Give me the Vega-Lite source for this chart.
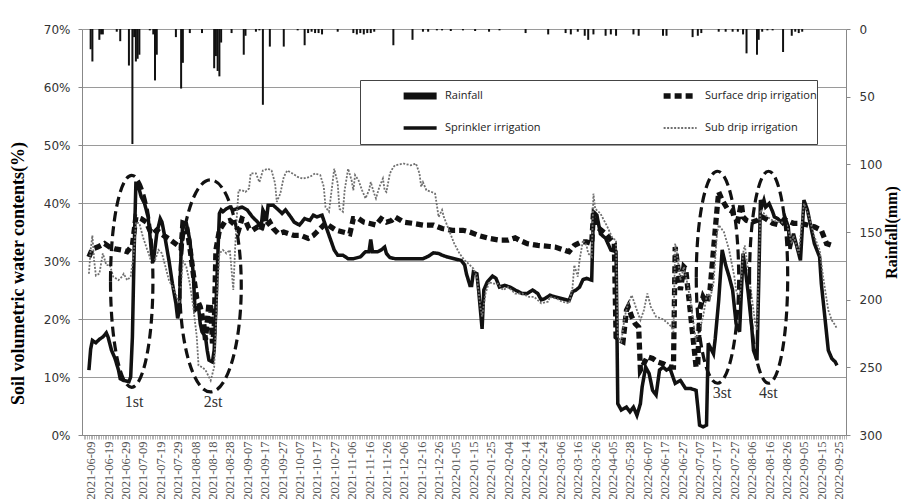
{
  "$schema": "https://vega.github.io/schema/vega-lite/v6.json",
  "autosize": {"type": "none"},
  "width": 764,
  "height": 406,
  "padding": {"left": 82, "top": 29, "right": 60, "bottom": 64},
  "background": "white",
  "config": {"view": {"stroke": null}},
  "datasets": {
    "rain": [
      {"i":1,"mm":15},{"i":2,"mm":24},{"i":6,"mm":8},{"i":7,"mm":4},{"i":8,"mm":4},{"i":16,"mm":2},{"i":18,"mm":9},{"i":23,"mm":27},{"i":25,"mm":85},{"i":26,"mm":6},{"i":27,"mm":24},{"i":28,"mm":22},{"i":29,"mm":19},{"i":35,"mm":1},{"i":37,"mm":4},{"i":38,"mm":38},{"i":39,"mm":19},{"i":50,"mm":6},{"i":53,"mm":44},{"i":54,"mm":25},{"i":58,"mm":3},{"i":65,"mm":3},{"i":72,"mm":29},{"i":73,"mm":20},{"i":74,"mm":31},{"i":75,"mm":35},{"i":76,"mm":10},{"i":82,"mm":3},{"i":89,"mm":19},{"i":90,"mm":5},{"i":96,"mm":2},{"i":98,"mm":1},{"i":100,"mm":56},{"i":104,"mm":13},{"i":112,"mm":13},{"i":120,"mm":1},{"i":124,"mm":12},{"i":126,"mm":3},{"i":128,"mm":2},{"i":130,"mm":3},{"i":132,"mm":3},{"i":134,"mm":4},{"i":143,"mm":2},{"i":152,"mm":3},{"i":154,"mm":4},{"i":156,"mm":3},{"i":158,"mm":4},{"i":160,"mm":3},{"i":162,"mm":3},{"i":164,"mm":2},{"i":175,"mm":12},{"i":186,"mm":8},{"i":192,"mm":2},{"i":195,"mm":2},{"i":200,"mm":1},{"i":203,"mm":1},{"i":208,"mm":1.5},{"i":215,"mm":1},{"i":222,"mm":1.5},{"i":230,"mm":2},{"i":236,"mm":1},{"i":251,"mm":3},{"i":264,"mm":4},{"i":274,"mm":3},{"i":277,"mm":4},{"i":281,"mm":2},{"i":285,"mm":5},{"i":287,"mm":8},{"i":290,"mm":4},{"i":297,"mm":5},{"i":300,"mm":4},{"i":303,"mm":5},{"i":313,"mm":4},{"i":316,"mm":5},{"i":330,"mm":5},{"i":332,"mm":5},{"i":347,"mm":6},{"i":350,"mm":5},{"i":352,"mm":3},{"i":362,"mm":2},{"i":366,"mm":2},{"i":370,"mm":2},{"i":373,"mm":2},{"i":376,"mm":4},{"i":378,"mm":18},{"i":384,"mm":19},{"i":385,"mm":8},{"i":387,"mm":2},{"i":390,"mm":1},{"i":393,"mm":1},{"i":399,"mm":17},{"i":404,"mm":5},{"i":406,"mm":2},{"i":408,"mm":3},{"i":410,"mm":2}
    ],
    "soil": [
      {"s":"Sprinkler irrigation","i":0,"v":11.2},{"s":"Sprinkler irrigation","i":1,"v":14.8},{"s":"Sprinkler irrigation","i":2,"v":16.3},{"s":"Sprinkler irrigation","i":4,"v":15.9},{"s":"Sprinkler irrigation","i":6,"v":16.5},{"s":"Sprinkler irrigation","i":8,"v":16.9},{"s":"Sprinkler irrigation","i":10,"v":17.6},{"s":"Sprinkler irrigation","i":11,"v":16.9},{"s":"Sprinkler irrigation","i":13,"v":14.6},{"s":"Sprinkler irrigation","i":15,"v":13.2},{"s":"Sprinkler irrigation","i":17,"v":11.2},{"s":"Sprinkler irrigation","i":18,"v":9.7},{"s":"Sprinkler irrigation","i":20,"v":9.4},{"s":"Sprinkler irrigation","i":23,"v":9.2},{"s":"Sprinkler irrigation","i":24,"v":10.0},{"s":"Sprinkler irrigation","i":25,"v":16.9},{"s":"Sprinkler irrigation","i":26,"v":31.9},{"s":"Sprinkler irrigation","i":27,"v":43.4},{"s":"Sprinkler irrigation","i":28,"v":43.4},{"s":"Sprinkler irrigation","i":30,"v":41.1},{"s":"Sprinkler irrigation","i":32,"v":39.9},{"s":"Sprinkler irrigation","i":34,"v":37.6},{"s":"Sprinkler irrigation","i":35,"v":34.7},{"s":"Sprinkler irrigation","i":36,"v":31.3},{"s":"Sprinkler irrigation","i":37,"v":29.8},{"s":"Sprinkler irrigation","i":39,"v":34.7},{"s":"Sprinkler irrigation","i":41,"v":37.3},{"s":"Sprinkler irrigation","i":42,"v":36.7},{"s":"Sprinkler irrigation","i":44,"v":33.6},{"s":"Sprinkler irrigation","i":46,"v":30.1},{"s":"Sprinkler irrigation","i":48,"v":26.1},{"s":"Sprinkler irrigation","i":50,"v":22.7},{"s":"Sprinkler irrigation","i":51,"v":20.1},{"s":"Sprinkler irrigation","i":52,"v":21.5},{"s":"Sprinkler irrigation","i":53,"v":31.9},{"s":"Sprinkler irrigation","i":54,"v":36.7},{"s":"Sprinkler irrigation","i":56,"v":36.5},{"s":"Sprinkler irrigation","i":58,"v":33.6},{"s":"Sprinkler irrigation","i":60,"v":27.8},{"s":"Sprinkler irrigation","i":61,"v":21.5},{"s":"Sprinkler irrigation","i":63,"v":22.1},{"s":"Sprinkler irrigation","i":64,"v":19.2},{"s":"Sprinkler irrigation","i":65,"v":17.8},{"s":"Sprinkler irrigation","i":67,"v":16.9},{"s":"Sprinkler irrigation","i":68,"v":14.6},{"s":"Sprinkler irrigation","i":69,"v":12.9},{"s":"Sprinkler irrigation","i":71,"v":12.6},{"s":"Sprinkler irrigation","i":72,"v":14.6},{"s":"Sprinkler irrigation","i":73,"v":22.1},{"s":"Sprinkler irrigation","i":75,"v":38.2},{"s":"Sprinkler irrigation","i":76,"v":38.8},{"s":"Sprinkler irrigation","i":77,"v":38.5},{"s":"Sprinkler irrigation","i":79,"v":39.0},{"s":"Sprinkler irrigation","i":81,"v":39.3},{"s":"Sprinkler irrigation","i":83,"v":38.8},{"s":"Sprinkler irrigation","i":85,"v":39.0},{"s":"Sprinkler irrigation","i":88,"v":39.3},{"s":"Sprinkler irrigation","i":91,"v":38.8},{"s":"Sprinkler irrigation","i":94,"v":37.6},{"s":"Sprinkler irrigation","i":97,"v":36.7},{"s":"Sprinkler irrigation","i":99,"v":35.9},{"s":"Sprinkler irrigation","i":100,"v":38.8},{"s":"Sprinkler irrigation","i":101,"v":38.2},{"s":"Sprinkler irrigation","i":102,"v":37.0},{"s":"Sprinkler irrigation","i":103,"v":39.6},{"s":"Sprinkler irrigation","i":106,"v":39.6},{"s":"Sprinkler irrigation","i":109,"v":38.8},{"s":"Sprinkler irrigation","i":111,"v":38.2},{"s":"Sprinkler irrigation","i":113,"v":38.8},{"s":"Sprinkler irrigation","i":116,"v":37.6},{"s":"Sprinkler irrigation","i":118,"v":36.7},{"s":"Sprinkler irrigation","i":121,"v":36.2},{"s":"Sprinkler irrigation","i":124,"v":37.3},{"s":"Sprinkler irrigation","i":127,"v":37.0},{"s":"Sprinkler irrigation","i":129,"v":37.9},{"s":"Sprinkler irrigation","i":131,"v":37.6},{"s":"Sprinkler irrigation","i":134,"v":37.9},{"s":"Sprinkler irrigation","i":135,"v":37.0},{"s":"Sprinkler irrigation","i":137,"v":35.3},{"s":"Sprinkler irrigation","i":139,"v":33.6},{"s":"Sprinkler irrigation","i":141,"v":31.9},{"s":"Sprinkler irrigation","i":143,"v":31.0},{"s":"Sprinkler irrigation","i":146,"v":31.0},{"s":"Sprinkler irrigation","i":149,"v":30.4},{"s":"Sprinkler irrigation","i":152,"v":30.4},{"s":"Sprinkler irrigation","i":156,"v":30.7},{"s":"Sprinkler irrigation","i":159,"v":31.6},{"s":"Sprinkler irrigation","i":161,"v":31.6},{"s":"Sprinkler irrigation","i":162,"v":33.7},{"s":"Sprinkler irrigation","i":163,"v":31.6},{"s":"Sprinkler irrigation","i":166,"v":31.6},{"s":"Sprinkler irrigation","i":168,"v":31.9},{"s":"Sprinkler irrigation","i":170,"v":32.4},{"s":"Sprinkler irrigation","i":171,"v":31.3},{"s":"Sprinkler irrigation","i":173,"v":30.6},{"s":"Sprinkler irrigation","i":176,"v":30.4},{"s":"Sprinkler irrigation","i":179,"v":30.4},{"s":"Sprinkler irrigation","i":185,"v":30.4},{"s":"Sprinkler irrigation","i":192,"v":30.4},{"s":"Sprinkler irrigation","i":195,"v":30.8},{"s":"Sprinkler irrigation","i":198,"v":31.4},{"s":"Sprinkler irrigation","i":201,"v":31.3},{"s":"Sprinkler irrigation","i":203,"v":31.0},{"s":"Sprinkler irrigation","i":206,"v":30.7},{"s":"Sprinkler irrigation","i":210,"v":30.4},{"s":"Sprinkler irrigation","i":214,"v":30.1},{"s":"Sprinkler irrigation","i":216,"v":29.3},{"s":"Sprinkler irrigation","i":217,"v":27.8},{"s":"Sprinkler irrigation","i":219,"v":25.8},{"s":"Sprinkler irrigation","i":220,"v":25.8},{"s":"Sprinkler irrigation","i":221,"v":28.1},{"s":"Sprinkler irrigation","i":223,"v":27.8},{"s":"Sprinkler irrigation","i":224,"v":25.0},{"s":"Sprinkler irrigation","i":226,"v":18.3},{"s":"Sprinkler irrigation","i":227,"v":25.0},{"s":"Sprinkler irrigation","i":229,"v":26.4},{"s":"Sprinkler irrigation","i":232,"v":27.4},{"s":"Sprinkler irrigation","i":234,"v":27.0},{"s":"Sprinkler irrigation","i":236,"v":25.5},{"s":"Sprinkler irrigation","i":239,"v":25.8},{"s":"Sprinkler irrigation","i":242,"v":25.5},{"s":"Sprinkler irrigation","i":245,"v":25.0},{"s":"Sprinkler irrigation","i":249,"v":24.4},{"s":"Sprinkler irrigation","i":252,"v":24.4},{"s":"Sprinkler irrigation","i":255,"v":25.0},{"s":"Sprinkler irrigation","i":258,"v":24.4},{"s":"Sprinkler irrigation","i":260,"v":23.3},{"s":"Sprinkler irrigation","i":262,"v":23.5},{"s":"Sprinkler irrigation","i":265,"v":24.1},{"s":"Sprinkler irrigation","i":268,"v":23.8},{"s":"Sprinkler irrigation","i":272,"v":23.5},{"s":"Sprinkler irrigation","i":276,"v":23.2},{"s":"Sprinkler irrigation","i":278,"v":24.7},{"s":"Sprinkler irrigation","i":280,"v":25.0},{"s":"Sprinkler irrigation","i":282,"v":25.5},{"s":"Sprinkler irrigation","i":284,"v":26.8},{"s":"Sprinkler irrigation","i":286,"v":27.0},{"s":"Sprinkler irrigation","i":289,"v":26.7},{"s":"Sprinkler irrigation","i":290,"v":38.5},{"s":"Sprinkler irrigation","i":292,"v":37.9},{"s":"Sprinkler irrigation","i":294,"v":34.7},{"s":"Sprinkler irrigation","i":297,"v":33.9},{"s":"Sprinkler irrigation","i":300,"v":31.9},{"s":"Sprinkler irrigation","i":303,"v":31.6},{"s":"Sprinkler irrigation","i":304,"v":5.4},{"s":"Sprinkler irrigation","i":306,"v":4.3},{"s":"Sprinkler irrigation","i":309,"v":4.8},{"s":"Sprinkler irrigation","i":311,"v":4.0},{"s":"Sprinkler irrigation","i":313,"v":4.8},{"s":"Sprinkler irrigation","i":315,"v":3.4},{"s":"Sprinkler irrigation","i":317,"v":5.4},{"s":"Sprinkler irrigation","i":318,"v":8.3},{"s":"Sprinkler irrigation","i":320,"v":11.7},{"s":"Sprinkler irrigation","i":322,"v":10.6},{"s":"Sprinkler irrigation","i":324,"v":7.7},{"s":"Sprinkler irrigation","i":326,"v":6.9},{"s":"Sprinkler irrigation","i":328,"v":11.2},{"s":"Sprinkler irrigation","i":330,"v":11.7},{"s":"Sprinkler irrigation","i":332,"v":11.2},{"s":"Sprinkler irrigation","i":334,"v":11.5},{"s":"Sprinkler irrigation","i":335,"v":10.6},{"s":"Sprinkler irrigation","i":337,"v":8.9},{"s":"Sprinkler irrigation","i":340,"v":9.4},{"s":"Sprinkler irrigation","i":343,"v":8.0},{"s":"Sprinkler irrigation","i":346,"v":8.0},{"s":"Sprinkler irrigation","i":349,"v":7.7},{"s":"Sprinkler irrigation","i":350,"v":4.8},{"s":"Sprinkler irrigation","i":351,"v":1.7},{"s":"Sprinkler irrigation","i":353,"v":1.4},{"s":"Sprinkler irrigation","i":355,"v":1.7},{"s":"Sprinkler irrigation","i":356,"v":15.8},{"s":"Sprinkler irrigation","i":357,"v":15.2},{"s":"Sprinkler irrigation","i":359,"v":14.0},{"s":"Sprinkler irrigation","i":360,"v":16.6},{"s":"Sprinkler irrigation","i":362,"v":23.2},{"s":"Sprinkler irrigation","i":364,"v":31.9},{"s":"Sprinkler irrigation","i":366,"v":29.3},{"s":"Sprinkler irrigation","i":368,"v":27.3},{"s":"Sprinkler irrigation","i":370,"v":25.0},{"s":"Sprinkler irrigation","i":372,"v":19.2},{"s":"Sprinkler irrigation","i":374,"v":17.8},{"s":"Sprinkler irrigation","i":375,"v":24.4},{"s":"Sprinkler irrigation","i":376,"v":31.3},{"s":"Sprinkler irrigation","i":377,"v":29.3},{"s":"Sprinkler irrigation","i":379,"v":24.4},{"s":"Sprinkler irrigation","i":381,"v":18.6},{"s":"Sprinkler irrigation","i":382,"v":14.6},{"s":"Sprinkler irrigation","i":384,"v":12.9},{"s":"Sprinkler irrigation","i":385,"v":26.1},{"s":"Sprinkler irrigation","i":386,"v":40.5},{"s":"Sprinkler irrigation","i":387,"v":39.6},{"s":"Sprinkler irrigation","i":388,"v":40.5},{"s":"Sprinkler irrigation","i":389,"v":39.3},{"s":"Sprinkler irrigation","i":391,"v":39.9},{"s":"Sprinkler irrigation","i":393,"v":38.5},{"s":"Sprinkler irrigation","i":394,"v":37.6},{"s":"Sprinkler irrigation","i":396,"v":37.3},{"s":"Sprinkler irrigation","i":398,"v":36.7},{"s":"Sprinkler irrigation","i":400,"v":37.6},{"s":"Sprinkler irrigation","i":402,"v":35.9},{"s":"Sprinkler irrigation","i":403,"v":32.1},{"s":"Sprinkler irrigation","i":405,"v":34.7},{"s":"Sprinkler irrigation","i":407,"v":32.4},{"s":"Sprinkler irrigation","i":409,"v":30.1},{"s":"Sprinkler irrigation","i":411,"v":40.5},{"s":"Sprinkler irrigation","i":413,"v":38.8},{"s":"Sprinkler irrigation","i":415,"v":35.9},{"s":"Sprinkler irrigation","i":417,"v":33.0},{"s":"Sprinkler irrigation","i":420,"v":30.7},{"s":"Sprinkler irrigation","i":421,"v":26.1},{"s":"Sprinkler irrigation","i":423,"v":20.4},{"s":"Sprinkler irrigation","i":425,"v":14.6},{"s":"Sprinkler irrigation","i":427,"v":13.2},{"s":"Sprinkler irrigation","i":429,"v":12.6},{"s":"Sprinkler irrigation","i":430,"v":12.0},
      {"s":"Surface drip irrigation","i":0,"v":30.7},{"s":"Surface drip irrigation","i":2,"v":32.1},{"s":"Surface drip irrigation","i":5,"v":32.4},{"s":"Surface drip irrigation","i":9,"v":33.0},{"s":"Surface drip irrigation","i":12,"v":32.4},{"s":"Surface drip irrigation","i":15,"v":32.1},{"s":"Surface drip irrigation","i":19,"v":31.9},{"s":"Surface drip irrigation","i":22,"v":31.6},{"s":"Surface drip irrigation","i":25,"v":32.7},{"s":"Surface drip irrigation","i":27,"v":37.6},{"s":"Surface drip irrigation","i":30,"v":37.3},{"s":"Surface drip irrigation","i":33,"v":36.7},{"s":"Surface drip irrigation","i":35,"v":35.3},{"s":"Surface drip irrigation","i":37,"v":34.7},{"s":"Surface drip irrigation","i":39,"v":35.3},{"s":"Surface drip irrigation","i":43,"v":34.4},{"s":"Surface drip irrigation","i":47,"v":33.6},{"s":"Surface drip irrigation","i":51,"v":32.7},{"s":"Surface drip irrigation","i":53,"v":32.1},{"s":"Surface drip irrigation","i":54,"v":36.5},{"s":"Surface drip irrigation","i":56,"v":36.2},{"s":"Surface drip irrigation","i":58,"v":32.4},{"s":"Surface drip irrigation","i":60,"v":27.8},{"s":"Surface drip irrigation","i":62,"v":23.5},{"s":"Surface drip irrigation","i":64,"v":22.1},{"s":"Surface drip irrigation","i":66,"v":19.2},{"s":"Surface drip irrigation","i":67,"v":16.4},{"s":"Surface drip irrigation","i":69,"v":22.7},{"s":"Surface drip irrigation","i":70,"v":22.1},{"s":"Surface drip irrigation","i":71,"v":15.8},{"s":"Surface drip irrigation","i":72,"v":18.1},{"s":"Surface drip irrigation","i":73,"v":31.9},{"s":"Surface drip irrigation","i":75,"v":35.3},{"s":"Surface drip irrigation","i":78,"v":36.7},{"s":"Surface drip irrigation","i":81,"v":37.0},{"s":"Surface drip irrigation","i":84,"v":36.2},{"s":"Surface drip irrigation","i":86,"v":35.3},{"s":"Surface drip irrigation","i":88,"v":37.3},{"s":"Surface drip irrigation","i":90,"v":37.0},{"s":"Surface drip irrigation","i":92,"v":35.6},{"s":"Surface drip irrigation","i":94,"v":35.3},{"s":"Surface drip irrigation","i":97,"v":35.9},{"s":"Surface drip irrigation","i":99,"v":35.3},{"s":"Surface drip irrigation","i":101,"v":37.6},{"s":"Surface drip irrigation","i":102,"v":36.2},{"s":"Surface drip irrigation","i":104,"v":36.7},{"s":"Surface drip irrigation","i":106,"v":35.6},{"s":"Surface drip irrigation","i":109,"v":34.7},{"s":"Surface drip irrigation","i":112,"v":35.0},{"s":"Surface drip irrigation","i":115,"v":34.7},{"s":"Surface drip irrigation","i":118,"v":34.4},{"s":"Surface drip irrigation","i":122,"v":34.4},{"s":"Surface drip irrigation","i":126,"v":33.9},{"s":"Surface drip irrigation","i":129,"v":34.4},{"s":"Surface drip irrigation","i":131,"v":35.0},{"s":"Surface drip irrigation","i":134,"v":35.9},{"s":"Surface drip irrigation","i":136,"v":36.5},{"s":"Surface drip irrigation","i":139,"v":35.9},{"s":"Surface drip irrigation","i":142,"v":35.3},{"s":"Surface drip irrigation","i":146,"v":35.0},{"s":"Surface drip irrigation","i":150,"v":34.7},{"s":"Surface drip irrigation","i":152,"v":37.3},{"s":"Surface drip irrigation","i":155,"v":37.3},{"s":"Surface drip irrigation","i":158,"v":36.7},{"s":"Surface drip irrigation","i":161,"v":36.5},{"s":"Surface drip irrigation","i":165,"v":36.2},{"s":"Surface drip irrigation","i":168,"v":37.3},{"s":"Surface drip irrigation","i":171,"v":36.7},{"s":"Surface drip irrigation","i":174,"v":37.0},{"s":"Surface drip irrigation","i":176,"v":37.6},{"s":"Surface drip irrigation","i":181,"v":36.7},{"s":"Surface drip irrigation","i":186,"v":36.5},{"s":"Surface drip irrigation","i":192,"v":36.2},{"s":"Surface drip irrigation","i":198,"v":36.2},{"s":"Surface drip irrigation","i":203,"v":35.6},{"s":"Surface drip irrigation","i":209,"v":35.3},{"s":"Surface drip irrigation","i":215,"v":35.3},{"s":"Surface drip irrigation","i":219,"v":35.0},{"s":"Surface drip irrigation","i":224,"v":34.4},{"s":"Surface drip irrigation","i":230,"v":33.9},{"s":"Surface drip irrigation","i":236,"v":33.6},{"s":"Surface drip irrigation","i":241,"v":33.6},{"s":"Surface drip irrigation","i":245,"v":34.0},{"s":"Surface drip irrigation","i":248,"v":33.5},{"s":"Surface drip irrigation","i":252,"v":33.0},{"s":"Surface drip irrigation","i":258,"v":32.7},{"s":"Surface drip irrigation","i":265,"v":32.5},{"s":"Surface drip irrigation","i":268,"v":32.4},{"s":"Surface drip irrigation","i":272,"v":32.0},{"s":"Surface drip irrigation","i":276,"v":31.6},{"s":"Surface drip irrigation","i":279,"v":32.7},{"s":"Surface drip irrigation","i":283,"v":33.3},{"s":"Surface drip irrigation","i":286,"v":33.3},{"s":"Surface drip irrigation","i":289,"v":33.0},{"s":"Surface drip irrigation","i":290,"v":38.2},{"s":"Surface drip irrigation","i":292,"v":35.9},{"s":"Surface drip irrigation","i":297,"v":34.7},{"s":"Surface drip irrigation","i":302,"v":33.0},{"s":"Surface drip irrigation","i":303,"v":16.9},{"s":"Surface drip irrigation","i":305,"v":16.4},{"s":"Surface drip irrigation","i":307,"v":16.1},{"s":"Surface drip irrigation","i":309,"v":21.5},{"s":"Surface drip irrigation","i":310,"v":22.1},{"s":"Surface drip irrigation","i":312,"v":20.4},{"s":"Surface drip irrigation","i":314,"v":19.2},{"s":"Surface drip irrigation","i":316,"v":18.6},{"s":"Surface drip irrigation","i":317,"v":11.2},{"s":"Surface drip irrigation","i":318,"v":11.7},{"s":"Surface drip irrigation","i":321,"v":13.5},{"s":"Surface drip irrigation","i":324,"v":13.2},{"s":"Surface drip irrigation","i":327,"v":12.6},{"s":"Surface drip irrigation","i":330,"v":12.3},{"s":"Surface drip irrigation","i":334,"v":11.7},{"s":"Surface drip irrigation","i":336,"v":11.7},{"s":"Surface drip irrigation","i":337,"v":32.4},{"s":"Surface drip irrigation","i":338,"v":30.1},{"s":"Surface drip irrigation","i":340,"v":25.0},{"s":"Surface drip irrigation","i":342,"v":29.0},{"s":"Surface drip irrigation","i":343,"v":28.7},{"s":"Surface drip irrigation","i":345,"v":23.2},{"s":"Surface drip irrigation","i":347,"v":17.5},{"s":"Surface drip irrigation","i":349,"v":11.7},{"s":"Surface drip irrigation","i":350,"v":12.3},{"s":"Surface drip irrigation","i":351,"v":21.5},{"s":"Surface drip irrigation","i":353,"v":23.8},{"s":"Surface drip irrigation","i":355,"v":22.7},{"s":"Surface drip irrigation","i":357,"v":25.0},{"s":"Surface drip irrigation","i":359,"v":31.9},{"s":"Surface drip irrigation","i":361,"v":38.8},{"s":"Surface drip irrigation","i":362,"v":41.9},{"s":"Surface drip irrigation","i":364,"v":40.5},{"s":"Surface drip irrigation","i":367,"v":39.0},{"s":"Surface drip irrigation","i":370,"v":38.5},{"s":"Surface drip irrigation","i":371,"v":37.3},{"s":"Surface drip irrigation","i":373,"v":37.0},{"s":"Surface drip irrigation","i":375,"v":39.9},{"s":"Surface drip irrigation","i":376,"v":37.6},{"s":"Surface drip irrigation","i":378,"v":37.0},{"s":"Surface drip irrigation","i":381,"v":36.7},{"s":"Surface drip irrigation","i":384,"v":37.0},{"s":"Surface drip irrigation","i":387,"v":37.6},{"s":"Surface drip irrigation","i":389,"v":37.3},{"s":"Surface drip irrigation","i":393,"v":36.5},{"s":"Surface drip irrigation","i":397,"v":36.2},{"s":"Surface drip irrigation","i":401,"v":37.0},{"s":"Surface drip irrigation","i":405,"v":36.5},{"s":"Surface drip irrigation","i":409,"v":36.5},{"s":"Surface drip irrigation","i":413,"v":36.2},{"s":"Surface drip irrigation","i":417,"v":35.9},{"s":"Surface drip irrigation","i":421,"v":35.3},{"s":"Surface drip irrigation","i":424,"v":33.0},{"s":"Surface drip irrigation","i":427,"v":32.7},
      {"s":"Sub drip irrigation","i":0,"v":27.8},{"s":"Sub drip irrigation","i":1,"v":31.9},{"s":"Sub drip irrigation","i":2,"v":34.4},{"s":"Sub drip irrigation","i":3,"v":30.1},{"s":"Sub drip irrigation","i":4,"v":27.5},{"s":"Sub drip irrigation","i":6,"v":27.8},{"s":"Sub drip irrigation","i":8,"v":31.3},{"s":"Sub drip irrigation","i":10,"v":29.3},{"s":"Sub drip irrigation","i":12,"v":29.3},{"s":"Sub drip irrigation","i":14,"v":27.3},{"s":"Sub drip irrigation","i":17,"v":26.7},{"s":"Sub drip irrigation","i":19,"v":27.3},{"s":"Sub drip irrigation","i":20,"v":27.8},{"s":"Sub drip irrigation","i":22,"v":26.7},{"s":"Sub drip irrigation","i":24,"v":27.3},{"s":"Sub drip irrigation","i":26,"v":31.9},{"s":"Sub drip irrigation","i":27,"v":36.7},{"s":"Sub drip irrigation","i":29,"v":36.5},{"s":"Sub drip irrigation","i":31,"v":34.2},{"s":"Sub drip irrigation","i":33,"v":32.4},{"s":"Sub drip irrigation","i":35,"v":30.7},{"s":"Sub drip irrigation","i":36,"v":29.6},{"s":"Sub drip irrigation","i":38,"v":30.1},{"s":"Sub drip irrigation","i":40,"v":31.9},{"s":"Sub drip irrigation","i":42,"v":31.3},{"s":"Sub drip irrigation","i":44,"v":29.0},{"s":"Sub drip irrigation","i":46,"v":26.7},{"s":"Sub drip irrigation","i":49,"v":25.0},{"s":"Sub drip irrigation","i":52,"v":22.7},{"s":"Sub drip irrigation","i":54,"v":30.1},{"s":"Sub drip irrigation","i":56,"v":29.0},{"s":"Sub drip irrigation","i":58,"v":26.1},{"s":"Sub drip irrigation","i":60,"v":22.1},{"s":"Sub drip irrigation","i":62,"v":16.9},{"s":"Sub drip irrigation","i":63,"v":12.0},{"s":"Sub drip irrigation","i":65,"v":11.7},{"s":"Sub drip irrigation","i":67,"v":11.2},{"s":"Sub drip irrigation","i":69,"v":10.0},{"s":"Sub drip irrigation","i":70,"v":9.4},{"s":"Sub drip irrigation","i":72,"v":11.7},{"s":"Sub drip irrigation","i":74,"v":26.1},{"s":"Sub drip irrigation","i":75,"v":31.3},{"s":"Sub drip irrigation","i":77,"v":31.9},{"s":"Sub drip irrigation","i":79,"v":31.3},{"s":"Sub drip irrigation","i":81,"v":31.9},{"s":"Sub drip irrigation","i":83,"v":25.0},{"s":"Sub drip irrigation","i":84,"v":31.9},{"s":"Sub drip irrigation","i":85,"v":37.6},{"s":"Sub drip irrigation","i":86,"v":42.2},{"s":"Sub drip irrigation","i":88,"v":42.2},{"s":"Sub drip irrigation","i":90,"v":41.9},{"s":"Sub drip irrigation","i":92,"v":42.5},{"s":"Sub drip irrigation","i":93,"v":45.1},{"s":"Sub drip irrigation","i":96,"v":45.1},{"s":"Sub drip irrigation","i":98,"v":43.6},{"s":"Sub drip irrigation","i":100,"v":45.6},{"s":"Sub drip irrigation","i":103,"v":45.9},{"s":"Sub drip irrigation","i":105,"v":45.6},{"s":"Sub drip irrigation","i":107,"v":43.4},{"s":"Sub drip irrigation","i":108,"v":40.2},{"s":"Sub drip irrigation","i":110,"v":41.6},{"s":"Sub drip irrigation","i":112,"v":44.5},{"s":"Sub drip irrigation","i":114,"v":45.6},{"s":"Sub drip irrigation","i":117,"v":45.1},{"s":"Sub drip irrigation","i":120,"v":44.5},{"s":"Sub drip irrigation","i":123,"v":44.2},{"s":"Sub drip irrigation","i":127,"v":44.5},{"s":"Sub drip irrigation","i":130,"v":45.1},{"s":"Sub drip irrigation","i":133,"v":44.8},{"s":"Sub drip irrigation","i":135,"v":42.8},{"s":"Sub drip irrigation","i":136,"v":39.3},{"s":"Sub drip irrigation","i":138,"v":38.5},{"s":"Sub drip irrigation","i":140,"v":43.4},{"s":"Sub drip irrigation","i":141,"v":45.9},{"s":"Sub drip irrigation","i":143,"v":43.4},{"s":"Sub drip irrigation","i":144,"v":39.0},{"s":"Sub drip irrigation","i":146,"v":38.5},{"s":"Sub drip irrigation","i":147,"v":42.2},{"s":"Sub drip irrigation","i":149,"v":45.9},{"s":"Sub drip irrigation","i":151,"v":43.9},{"s":"Sub drip irrigation","i":152,"v":42.2},{"s":"Sub drip irrigation","i":153,"v":44.8},{"s":"Sub drip irrigation","i":155,"v":43.9},{"s":"Sub drip irrigation","i":157,"v":42.2},{"s":"Sub drip irrigation","i":159,"v":40.8},{"s":"Sub drip irrigation","i":161,"v":42.2},{"s":"Sub drip irrigation","i":162,"v":43.6},{"s":"Sub drip irrigation","i":164,"v":41.6},{"s":"Sub drip irrigation","i":165,"v":40.8},{"s":"Sub drip irrigation","i":167,"v":42.8},{"s":"Sub drip irrigation","i":169,"v":44.2},{"s":"Sub drip irrigation","i":170,"v":42.2},{"s":"Sub drip irrigation","i":171,"v":41.9},{"s":"Sub drip irrigation","i":173,"v":45.1},{"s":"Sub drip irrigation","i":175,"v":46.2},{"s":"Sub drip irrigation","i":176,"v":46.5},{"s":"Sub drip irrigation","i":181,"v":46.8},{"s":"Sub drip irrigation","i":185,"v":46.5},{"s":"Sub drip irrigation","i":188,"v":46.8},{"s":"Sub drip irrigation","i":190,"v":45.1},{"s":"Sub drip irrigation","i":191,"v":42.8},{"s":"Sub drip irrigation","i":192,"v":43.6},{"s":"Sub drip irrigation","i":194,"v":42.2},{"s":"Sub drip irrigation","i":197,"v":41.9},{"s":"Sub drip irrigation","i":199,"v":41.6},{"s":"Sub drip irrigation","i":200,"v":39.6},{"s":"Sub drip irrigation","i":201,"v":37.6},{"s":"Sub drip irrigation","i":203,"v":38.8},{"s":"Sub drip irrigation","i":204,"v":37.6},{"s":"Sub drip irrigation","i":207,"v":35.3},{"s":"Sub drip irrigation","i":210,"v":33.0},{"s":"Sub drip irrigation","i":213,"v":31.3},{"s":"Sub drip irrigation","i":216,"v":30.1},{"s":"Sub drip irrigation","i":219,"v":29.3},{"s":"Sub drip irrigation","i":221,"v":28.7},{"s":"Sub drip irrigation","i":223,"v":27.3},{"s":"Sub drip irrigation","i":225,"v":22.1},{"s":"Sub drip irrigation","i":226,"v":20.4},{"s":"Sub drip irrigation","i":228,"v":24.4},{"s":"Sub drip irrigation","i":230,"v":26.4},{"s":"Sub drip irrigation","i":232,"v":26.1},{"s":"Sub drip irrigation","i":235,"v":26.1},{"s":"Sub drip irrigation","i":238,"v":25.0},{"s":"Sub drip irrigation","i":241,"v":25.5},{"s":"Sub drip irrigation","i":245,"v":24.4},{"s":"Sub drip irrigation","i":249,"v":24.4},{"s":"Sub drip irrigation","i":253,"v":23.8},{"s":"Sub drip irrigation","i":256,"v":23.8},{"s":"Sub drip irrigation","i":260,"v":22.7},{"s":"Sub drip irrigation","i":264,"v":23.0},{"s":"Sub drip irrigation","i":265,"v":23.8},{"s":"Sub drip irrigation","i":269,"v":23.5},{"s":"Sub drip irrigation","i":272,"v":23.0},{"s":"Sub drip irrigation","i":276,"v":22.7},{"s":"Sub drip irrigation","i":278,"v":25.5},{"s":"Sub drip irrigation","i":279,"v":29.3},{"s":"Sub drip irrigation","i":281,"v":27.3},{"s":"Sub drip irrigation","i":282,"v":30.1},{"s":"Sub drip irrigation","i":284,"v":33.6},{"s":"Sub drip irrigation","i":286,"v":32.7},{"s":"Sub drip irrigation","i":287,"v":31.3},{"s":"Sub drip irrigation","i":289,"v":30.7},{"s":"Sub drip irrigation","i":290,"v":41.6},{"s":"Sub drip irrigation","i":291,"v":39.0},{"s":"Sub drip irrigation","i":294,"v":38.2},{"s":"Sub drip irrigation","i":298,"v":35.9},{"s":"Sub drip irrigation","i":301,"v":33.9},{"s":"Sub drip irrigation","i":303,"v":33.6},{"s":"Sub drip irrigation","i":304,"v":16.9},{"s":"Sub drip irrigation","i":306,"v":16.1},{"s":"Sub drip irrigation","i":308,"v":20.4},{"s":"Sub drip irrigation","i":310,"v":22.7},{"s":"Sub drip irrigation","i":312,"v":24.1},{"s":"Sub drip irrigation","i":315,"v":21.5},{"s":"Sub drip irrigation","i":317,"v":19.8},{"s":"Sub drip irrigation","i":319,"v":21.5},{"s":"Sub drip irrigation","i":321,"v":24.4},{"s":"Sub drip irrigation","i":323,"v":22.1},{"s":"Sub drip irrigation","i":326,"v":20.4},{"s":"Sub drip irrigation","i":329,"v":20.1},{"s":"Sub drip irrigation","i":332,"v":19.5},{"s":"Sub drip irrigation","i":335,"v":18.6},{"s":"Sub drip irrigation","i":336,"v":17.8},{"s":"Sub drip irrigation","i":337,"v":33.0},{"s":"Sub drip irrigation","i":338,"v":31.3},{"s":"Sub drip irrigation","i":340,"v":26.7},{"s":"Sub drip irrigation","i":342,"v":29.0},{"s":"Sub drip irrigation","i":344,"v":26.1},{"s":"Sub drip irrigation","i":346,"v":22.7},{"s":"Sub drip irrigation","i":348,"v":18.1},{"s":"Sub drip irrigation","i":349,"v":16.4},{"s":"Sub drip irrigation","i":351,"v":18.1},{"s":"Sub drip irrigation","i":353,"v":20.4},{"s":"Sub drip irrigation","i":355,"v":23.8},{"s":"Sub drip irrigation","i":356,"v":24.4},{"s":"Sub drip irrigation","i":357,"v":23.5},{"s":"Sub drip irrigation","i":359,"v":26.1},{"s":"Sub drip irrigation","i":361,"v":34.7},{"s":"Sub drip irrigation","i":362,"v":36.2},{"s":"Sub drip irrigation","i":365,"v":35.0},{"s":"Sub drip irrigation","i":368,"v":31.9},{"s":"Sub drip irrigation","i":371,"v":27.3},{"s":"Sub drip irrigation","i":372,"v":25.0},{"s":"Sub drip irrigation","i":374,"v":23.2},{"s":"Sub drip irrigation","i":376,"v":31.3},{"s":"Sub drip irrigation","i":377,"v":32.7},{"s":"Sub drip irrigation","i":380,"v":26.1},{"s":"Sub drip irrigation","i":383,"v":19.2},{"s":"Sub drip irrigation","i":384,"v":18.1},{"s":"Sub drip irrigation","i":386,"v":38.8},{"s":"Sub drip irrigation","i":388,"v":38.2},{"s":"Sub drip irrigation","i":390,"v":37.6},{"s":"Sub drip irrigation","i":393,"v":37.0},{"s":"Sub drip irrigation","i":397,"v":36.7},{"s":"Sub drip irrigation","i":401,"v":36.5},{"s":"Sub drip irrigation","i":404,"v":33.0},{"s":"Sub drip irrigation","i":405,"v":34.4},{"s":"Sub drip irrigation","i":408,"v":31.3},{"s":"Sub drip irrigation","i":411,"v":39.9},{"s":"Sub drip irrigation","i":414,"v":37.6},{"s":"Sub drip irrigation","i":417,"v":34.2},{"s":"Sub drip irrigation","i":420,"v":31.9},{"s":"Sub drip irrigation","i":422,"v":27.3},{"s":"Sub drip irrigation","i":425,"v":21.5},{"s":"Sub drip irrigation","i":427,"v":19.8},{"s":"Sub drip irrigation","i":429,"v":18.9},{"s":"Sub drip irrigation","i":430,"v":18.3}
    ],
    "notes": [
      {"n":"1st","i":26,"tp":5.7,"ci":24.6,"cp":26.5},
      {"n":"2st","i":71.4,"tp":5.7,"ci":69.9,"cp":25.7},
      {"n":"3st","i":364,"tp":7.2,"ci":361.3,"cp":27.2},
      {"n":"4st","i":390.5,"tp":7.2,"ci":390.7,"cp":27.2}
    ]
  },
  "encoding": {
    "x": {
      "field": "i",
      "type": "quantitative",
      "scale": {"domain": [-1.1, 432.3], "nice": false, "zero": false},
      "axis": {
        "title": null,
        "tickCount": 433,
        "grid": false,
        "domainColor": "#888",
        "tickColor": "#888",
        "tickWidth": 0.6,
        "tickSize": 4,
        "labelAngle": 270,
        "labelAlign": "right",
        "labelBaseline": "middle",
        "labelPadding": 2,
        "labelOverlap": false,
        "labelFlush": false,
        "labelBound": false,
        "labelFont": "Liberation Sans Narrow",
        "labelFontSize": 12.5,
        "labelColor": "#555",
        "labelExpr": "(datum.value - 1) % 10 == 0 ? ['2021-06-09','2021-06-19','2021-06-29','2021-07-09','2021-07-19','2021-07-29','2021-08-08','2021-08-18','2021-08-28','2021-09-07','2021-09-17','2021-09-27','2021-10-07','2021-10-17','2021-10-27','2021-11-06','2021-11-16','2021-11-26','2021-12-06','2021-12-16','2021-12-26','2022-01-05','2022-01-15','2022-01-25','2022-02-04','2022-02-14','2022-02-24','2022-03-06','2022-03-16','2022-03-26','2022-04-05','2022-05-28','2022-06-07','2022-06-17','2022-06-27','2022-07-07','2022-07-17','2022-07-27','2022-08-06','2022-08-16','2022-08-26','2022-09-05','2022-09-15','2022-09-25'][(datum.value - 1) / 10] : ''"
      }
    }
  },
  "layer": [
    {
      "data": {"name": "rain"},
      "mark": {"type": "bar", "size": 2, "color": "#111"},
      "encoding": {
        "y": {
          "field": "mm",
          "type": "quantitative",
          "scale": {"domain": [0, 300], "reverse": true, "nice": false, "zero": true},
          "axis": {
            "orient": "right",
            "title": "Rainfall(mm)",
            "titleFont": "Liberation Serif",
            "titleFontWeight": "bold",
            "titleFontSize": 16,
            "titleColor": "#000",
            "titleAngle": 270,
            "titleX": 45,
            "titleY": 203,
            "titleAlign": "center",
            "titleBaseline": "middle",
            "values": [0, 50, 100, 150, 200, 250, 300],
            "grid": false,
            "domainColor": "#888",
            "tickColor": "#888",
            "tickSize": 4,
            "labelPadding": 9,
            "labelFont": "DejaVu Sans",
            "labelFontSize": 12,
            "labelColor": "#333"
          }
        }
      }
    },
    {
      "layer": [
        {
          "data": {"name": "soil"},
          "mark": {"type": "line", "interpolate": "linear"},
          "encoding": {
            "y": {
              "field": "v",
              "type": "quantitative",
              "scale": {"domain": [0, 70], "nice": false},
              "axis": {
                "orient": "left",
                "title": "Soil volumetric water contents(%)",
                "titleFont": "Liberation Serif",
                "titleFontWeight": "bold",
                "titleFontSize": 18,
                "titleColor": "#000",
                "titleAngle": 270,
                "titleX": -64,
                "titleY": 244,
                "titleAlign": "center",
                "titleBaseline": "middle",
                "values": [0, 10, 20, 30, 40, 50, 60, 70],
                "labelExpr": "datum.value + '%'",
                "grid": true,
                "gridColor": "#9a9a9a",
                "gridWidth": 1,
                "domainColor": "#888",
                "tickColor": "#888",
                "tickSize": 4,
                "labelPadding": 8,
                "labelFont": "DejaVu Sans",
                "labelFontSize": 12,
                "labelColor": "#333"
              }
            },
            "color": {
              "field": "s",
              "type": "nominal",
              "scale": {
                "domain": ["Rainfall", "Surface drip irrigation", "Sprinkler irrigation", "Sub drip irrigation"],
                "range": ["#111111", "#111111", "#111111", "#707070"]
              },
              "legend": {
                "title": null,
                "orient": "none",
                "legendX": 278,
                "legendY": 51,
                "direction": "horizontal",
                "columns": 2,
                "columnPadding": 79,
                "rowPadding": 0,
                "padding": 0,
                "clipHeight": 32,
                "symbolType": "M0.07,0H0.95",
                "symbolSize": 5625,
                "labelOffset": 3,
                "labelFont": "Open Sans",
                "labelFontSize": 11,
                "labelColor": "#222",
                "strokeColor": "#444",
                "fillColor": "white",
                "labelLimit": 300
              }
            },
            "strokeDash": {
              "field": "s",
              "type": "nominal",
              "scale": {
                "domain": ["Rainfall", "Surface drip irrigation", "Sprinkler irrigation", "Sub drip irrigation"],
                "range": [[1, 0], [7, 4], [1, 0], [2, 1.5]]
              }
            },
            "strokeWidth": {
              "field": "s",
              "type": "nominal",
              "scale": {
                "domain": ["Rainfall", "Surface drip irrigation", "Sprinkler irrigation", "Sub drip irrigation"],
                "range": [7, 1.8, 2, 1]
              }
            }
          }
        },
        {
          "data": {"name": "notes"},
          "mark": {"type": "point", "filled": false, "stroke": "#111", "strokeWidth": 3.2, "strokeDash": [10, 5], "opacity": 1, "size": 44944},
          "encoding": {
            "x": {"field": "ci", "type": "quantitative"},
            "y": {"field": "cp", "type": "quantitative", "scale": {"domain": [0, 70], "nice": false}},
            "shape": {
              "field": "n",
              "type": "nominal",
              "legend": null,
              "scale": {
                "domain": ["1st", "2st", "3st", "4st"],
                "range": [
                  "M-0.2,0A0.2,1,0,1,1,0.2,0A0.2,1,0,1,1,-0.2,0Z",
                  "M-0.29,0A0.29,1,0,1,1,0.29,0A0.29,1,0,1,1,-0.29,0Z",
                  "M-0.2,0A0.2,1,0,1,1,0.2,0A0.2,1,0,1,1,-0.2,0Z",
                  "M-0.18,0A0.18,1,0,1,1,0.18,0A0.18,1,0,1,1,-0.18,0Z"
                ]
              }
            }
          }
        },
        {
          "data": {"name": "notes"},
          "mark": {"type": "text", "font": "Liberation Serif", "fontSize": 16, "color": "#333", "align": "center", "baseline": "middle"},
          "encoding": {
            "y": {"field": "tp", "type": "quantitative", "scale": {"domain": [0, 70], "nice": false}},
            "text": {"field": "n"}
          }
        }
      ]
    }
  ],
  "resolve": {"scale": {"y": "independent"}, "axis": {"y": "independent"}}
}
